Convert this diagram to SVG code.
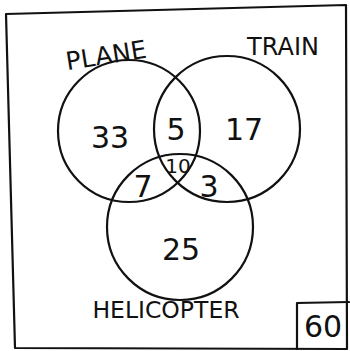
<svg xmlns="http://www.w3.org/2000/svg" width="350" height="351" viewBox="0 0 350 351">
<style>
.ln{fill:none;stroke:#111;stroke-width:2.2;stroke-linecap:round;stroke-linejoin:round}
.t{font-family:"DejaVu Sans","Liberation Sans",sans-serif;fill:#111;text-anchor:middle}
.num{font-size:30px}
</style>
<rect width="350" height="351" fill="#fff"/>
<g id="frame">
<path class="ln" d="M6,14 L346,5 L347,349 L15,348 Z"/>
</g>
<g id="plane">
<circle class="ln" cx="129" cy="131" r="71"/>
<text class="t" font-size="25" x="106" y="64" transform="rotate(-9 106 55)">PLANE</text>
</g>
<g id="train">
<circle class="ln" cx="227" cy="129" r="73"/>
<text class="t" font-size="24" x="283" y="55">TRAIN</text>
</g>
<g id="helicopter">
<circle class="ln" cx="180" cy="227" r="73"/>
<text class="t" font-size="23.5" x="166" y="318">HELICOPTER</text>
</g>
<g id="regions">
<text class="t num" x="110" y="148">33</text>
<text class="t num" x="176" y="140">5</text>
<text class="t num" x="244" y="140">17</text>
<text class="t" x="178" y="173" font-size="20">10</text>
<text class="t num" x="143" y="197">7</text>
<text class="t num" x="209" y="197">3</text>
<text class="t num" x="181" y="260">25</text>
</g>
<g id="total">
<path class="ln" d="M297,349 L297,303 L349,302"/>
<text class="t num" x="323" y="337">60</text>
</g>
<g id="connectors"/>
</svg>
